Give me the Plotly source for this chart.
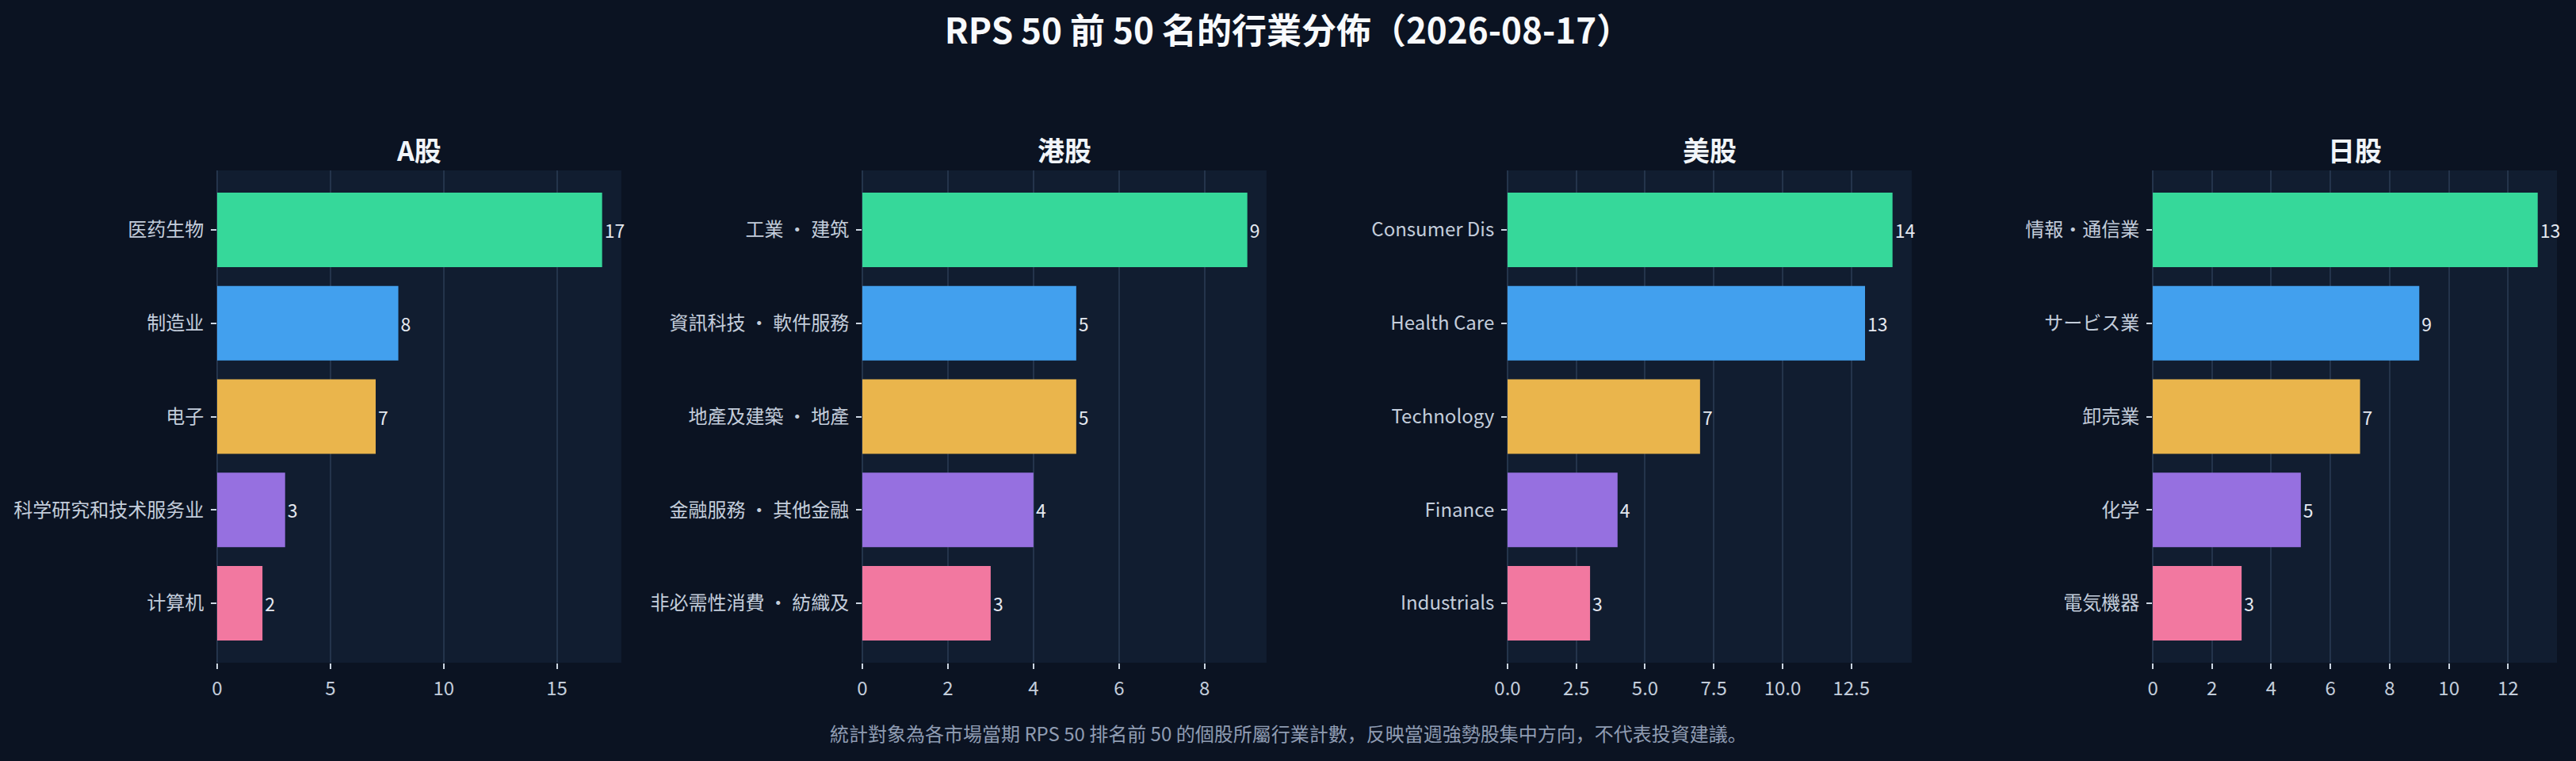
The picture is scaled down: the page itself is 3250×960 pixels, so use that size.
import plotly.graph_objects as go
from plotly.subplots import make_subplots

# industries in each market, top to bottom
a_industries = ["医药生物", "制造业", "电子", "科学研究和技术服务业", "计算机"]
a_counts = [17, 8, 7, 3, 2]

hk_industries = ["工業 ・ 建筑", "資訊科技 ・ 軟件服務", "地產及建築 ・ 地產",
                 "金融服務 ・ 其他金融", "非必需性消費 ・ 紡織及"]
hk_counts = [9, 5, 5, 4, 3]

us_industries = ["Consumer Dis", "Health Care", "Technology", "Finance", "Industrials"]
us_counts = [14, 13, 7, 4, 3]

jp_industries = ["情報・通信業", "サービス業", "卸売業", "化学", "電気機器"]
jp_counts = [13, 9, 7, 5, 3]

market_titles = ["A股", "港股", "美股", "日股"]
x_dticks = [5, 2, 2.5, 2]

TITLE = "RPS 50 前 50 名的行業分佈（2026-08-17）"
FOOTNOTE = "統計對象為各市場當期 RPS 50 排名前 50 的個股所屬行業計數，反映當週強勢股集中方向，不代表投資建議。"

BAR_COLORS = ["#36d89a", "#42a0ee", "#eab54c", "#9670e0", "#f278a0"]
PAPER_BG = "#0b1322"
PLOT_BG = "#111d30"
GRID = "#24344b"
FONT = "Noto Sans CJK SC"

markets = [
    (a_industries, a_counts),
    (hk_industries, hk_counts),
    (us_industries, us_counts),
    (jp_industries, jp_counts),
]

fig = make_subplots(
    rows=1,
    cols=4,
    subplot_titles=market_titles,
    horizontal_spacing=0.103,
)

for i, (names, counts) in enumerate(markets):
    col = i + 1
    fig.add_trace(
        go.Bar(
            x=counts,
            y=names,
            orientation="h",
            marker_color=BAR_COLORS[: len(names)],
            marker_line_width=0,
            text=counts,
            textposition="outside",
            textfont=dict(color="#e5e9f0", size=23, family=FONT),
            cliponaxis=False,
            hoverinfo="skip",
        ),
        row=1,
        col=col,
    )
    fig.update_xaxes(
        range=[0, max(counts) * 1.05],
        dtick=x_dticks[i],
        tickformat=".1f" if i == 2 else None,
        showgrid=True,
        gridcolor=GRID,
        gridwidth=1.5,
        zeroline=True,
        zerolinecolor=GRID,
        zerolinewidth=1.5,
        showline=False,
        ticks="outside",
        ticklen=7,
        tickwidth=2,
        tickcolor="#cbd5e1",
        ticklabelstandoff=4,
        tickfont=dict(color="#c3cddb", size=24, family=FONT),
        row=1,
        col=col,
    )
    # a little padding above the first and below the last category
    pad = 0.637
    fig.update_yaxes(
        range=[len(names) - 1 + pad, -pad],
        showgrid=False,
        zeroline=False,
        showline=False,
        ticks="outside",
        ticklen=7,
        tickwidth=1.5,
        tickcolor="#cbd5e1",
        ticklabelstandoff=4,
        tickfont=dict(color="#c3cddb", size=24, family=FONT),
        row=1,
        col=col,
    )

# subplot titles
for ann in fig.layout.annotations:
    ann.font = dict(size=34, color="#f1f5f9", family=FONT, weight=700)

fig.add_annotation(
    text=FOOTNOTE,
    xref="paper",
    yref="paper",
    x=0.4577,
    y=-0.143,
    xanchor="center",
    yanchor="middle",
    showarrow=False,
    font=dict(size=24, color="#8f9cb2", family=FONT),
)

fig.update_layout(
    width=3250,
    height=960,
    title=dict(
        text=TITLE,
        x=0.5,
        xanchor="center",
        y=1 - 40 / 960,
        yanchor="middle",
        font=dict(size=44, color="#f8fafc", family=FONT, weight=700),
    ),
    paper_bgcolor=PAPER_BG,
    plot_bgcolor=PLOT_BG,
    bargap=0.2,
    showlegend=False,
    margin=dict(l=274, r=24, t=215, b=124),
    font=dict(family=FONT, color="#c3cddb"),
)

fig.write_html(
    "out.html",
    config={"displayModeBar": False},
    post_script="document.body.style.margin='0';document.body.style.background='%s';" % PAPER_BG,
)
